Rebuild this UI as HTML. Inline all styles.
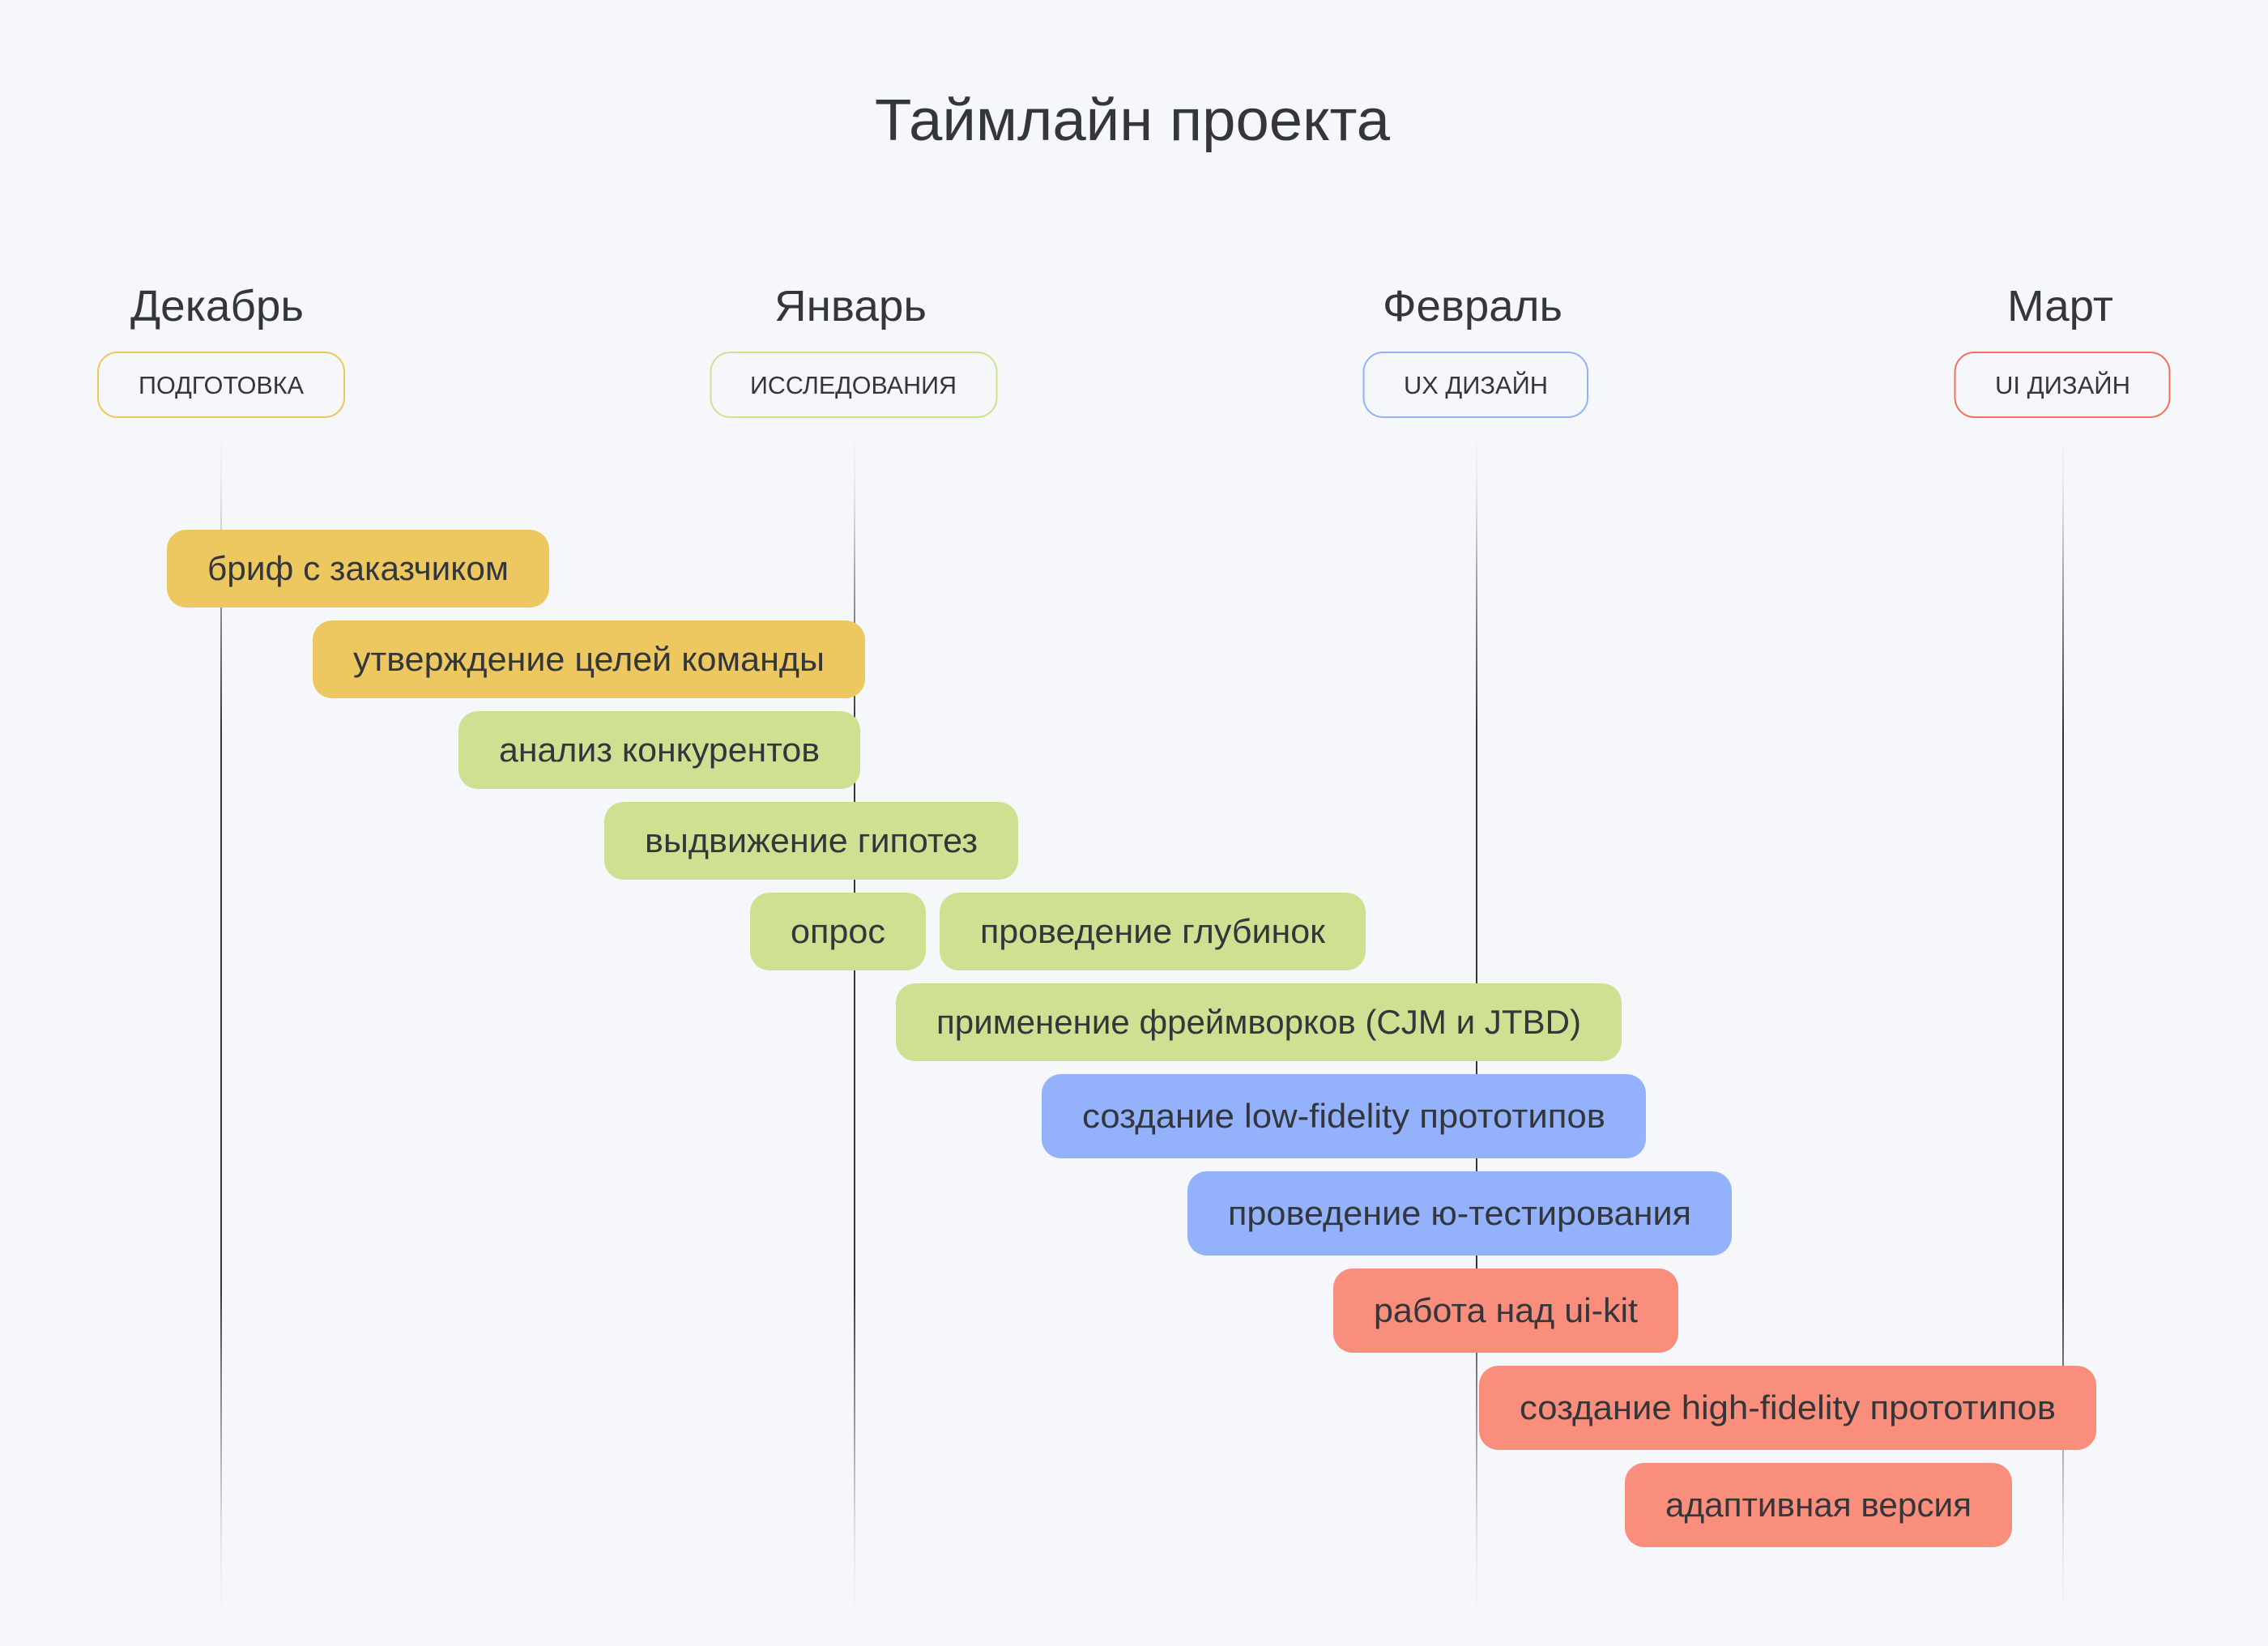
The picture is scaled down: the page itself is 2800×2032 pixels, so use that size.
<!DOCTYPE html>
<html lang="ru">
<head>
<meta charset="utf-8">
<title>Таймлайн проекта</title>
<style>
html,body{margin:0;padding:0;background:#f5f7fb;}
body{width:2800px;height:2032px;overflow:hidden;}
svg{display:block;}
text{font-family:"Liberation Sans","DejaVu Sans",sans-serif;fill:#33363b;}
.t{font-size:42px;}
.p{font-size:31px;}
.m{font-size:54px;}
</style>
</head>
<body>
<svg xmlns="http://www.w3.org/2000/svg" width="2800" height="2032" viewBox="0 0 2800 2032">
<defs>
<linearGradient id="g" x1="0" y1="0" x2="0" y2="1">
<stop offset="0" stop-color="#33363b" stop-opacity="0"/>
<stop offset="0.04" stop-color="#33363b" stop-opacity="0.06"/>
<stop offset="0.08" stop-color="#33363b" stop-opacity="0.2"/>
<stop offset="0.127" stop-color="#33363b" stop-opacity="0.45"/>
<stop offset="0.195" stop-color="#33363b" stop-opacity="0.75"/>
<stop offset="0.25" stop-color="#33363b" stop-opacity="1"/>
<stop offset="0.72" stop-color="#33363b" stop-opacity="1"/>
<stop offset="0.78" stop-color="#33363b" stop-opacity="0.7"/>
<stop offset="0.85" stop-color="#33363b" stop-opacity="0.4"/>
<stop offset="0.92" stop-color="#33363b" stop-opacity="0.13"/>
<stop offset="0.96" stop-color="#33363b" stop-opacity="0.04"/>
<stop offset="1" stop-color="#33363b" stop-opacity="0"/>
</linearGradient>
</defs>
<rect width="2800" height="2032" fill="#f5f7fb"/>

<text x="1080" y="173" font-size="72" textLength="636" lengthAdjust="spacingAndGlyphs">Таймлайн проекта</text>

<text class="m" x="161" y="396" textLength="214" lengthAdjust="spacingAndGlyphs">Декабрь</text>
<text class="m" x="956" y="396" textLength="188" lengthAdjust="spacingAndGlyphs">Январь</text>
<text class="m" x="1707" y="396" textLength="222" lengthAdjust="spacingAndGlyphs">Февраль</text>
<text class="m" x="2478" y="396" textLength="131" lengthAdjust="spacingAndGlyphs">Март</text>

<rect x="121" y="435" width="304" height="80" rx="24" fill="none" stroke="#edc860" stroke-width="2"/>
<rect x="877.5" y="435" width="353" height="80" rx="24" fill="none" stroke="#cee193" stroke-width="2"/>
<rect x="1683.5" y="435" width="276.5" height="80" rx="24" fill="none" stroke="#94b1fc" stroke-width="2"/>
<rect x="2413.5" y="435" width="265" height="80" rx="24" fill="none" stroke="#f0705c" stroke-width="2"/>

<text class="p" x="171" y="486" textLength="204" lengthAdjust="spacingAndGlyphs">ПОДГОТОВКА</text>
<text class="p" x="926" y="486" textLength="255" lengthAdjust="spacingAndGlyphs">ИССЛЕДОВАНИЯ</text>
<text class="p" x="1733" y="486" textLength="178" lengthAdjust="spacingAndGlyphs">UX ДИЗАЙН</text>
<text class="p" x="2463" y="486" textLength="167" lengthAdjust="spacingAndGlyphs">UI ДИЗАЙН</text>

<rect x="272" y="533" width="2" height="1470" fill="url(#g)"/>
<rect x="1054" y="533" width="2" height="1470" fill="url(#g)"/>
<rect x="1822" y="533" width="2" height="1470" fill="url(#g)"/>
<rect x="2546" y="533" width="2" height="1470" fill="url(#g)"/>

<rect x="206" y="654" width="472" height="96" rx="24" fill="#edc860"/>
<text class="t" x="256" y="716" textLength="372" lengthAdjust="spacingAndGlyphs">бриф с заказчиком</text>

<rect x="386" y="766" width="682" height="96" rx="24" fill="#edc860"/>
<text class="t" x="436" y="828" textLength="582" lengthAdjust="spacingAndGlyphs">утверждение целей команды</text>

<rect x="566" y="878" width="496" height="96" rx="24" fill="#cee193"/>
<text class="t" x="616" y="940" textLength="396" lengthAdjust="spacingAndGlyphs">анализ конкурентов</text>

<rect x="746" y="990" width="511" height="96" rx="24" fill="#cee193"/>
<text class="t" x="796" y="1052" textLength="411" lengthAdjust="spacingAndGlyphs">выдвижение гипотез</text>

<rect x="926" y="1102" width="217" height="96" rx="24" fill="#cee193"/>
<text class="t" x="976" y="1164" textLength="117" lengthAdjust="spacingAndGlyphs">опрос</text>

<rect x="1160" y="1102" width="526" height="96" rx="24" fill="#cee193"/>
<text class="t" x="1210" y="1164" textLength="426" lengthAdjust="spacingAndGlyphs">проведение глубинок</text>

<rect x="1106" y="1214" width="896" height="96" rx="24" fill="#cee193"/>
<text class="t" x="1156" y="1276" textLength="796" lengthAdjust="spacingAndGlyphs">применение фреймворков (CJM и JTBD)</text>

<rect x="1286" y="1326" width="746" height="104" rx="24" fill="#94b1fc"/>
<text class="t" x="1336" y="1392" textLength="646" lengthAdjust="spacingAndGlyphs">создание low-fidelity прототипов</text>

<rect x="1466" y="1446" width="672" height="104" rx="24" fill="#94b1fc"/>
<text class="t" x="1516" y="1512" textLength="572" lengthAdjust="spacingAndGlyphs">проведение ю-тестирования</text>

<rect x="1646" y="1566" width="426" height="104" rx="24" fill="#f98e7c"/>
<text class="t" x="1696" y="1632" textLength="326" lengthAdjust="spacingAndGlyphs">работа над ui-kit</text>

<rect x="1826" y="1686" width="762" height="104" rx="24" fill="#f98e7c"/>
<text class="t" x="1876" y="1752" textLength="662" lengthAdjust="spacingAndGlyphs">создание high-fidelity прототипов</text>

<rect x="2006" y="1806" width="478" height="104" rx="24" fill="#f98e7c"/>
<text class="t" x="2056" y="1872" textLength="378" lengthAdjust="spacingAndGlyphs">адаптивная версия</text>
</svg>
</body>
</html>
